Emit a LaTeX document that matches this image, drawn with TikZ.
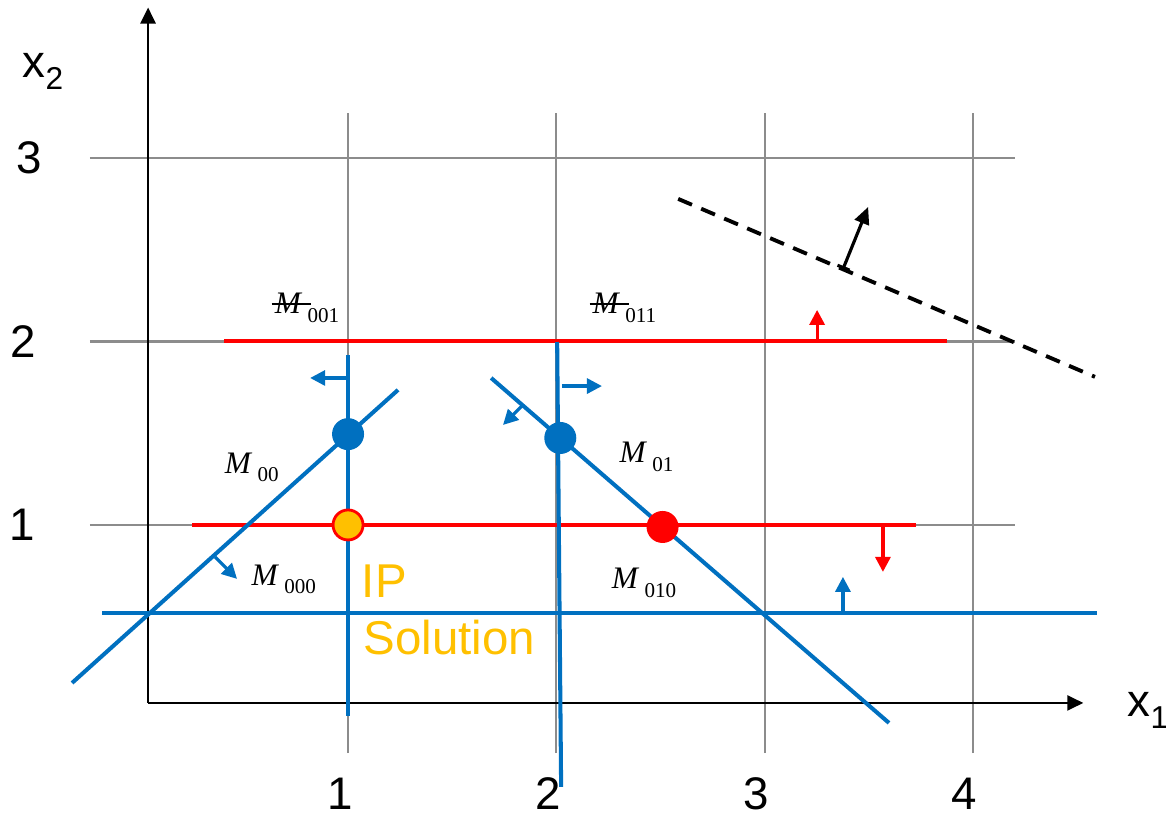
\documentclass[tikz,border=0pt]{standalone}
\usepackage{fontspec}
\setmainfont{Liberation Sans}
\newfontfamily\Mfont{Liberation Serif}
\usetikzlibrary{arrows.meta}
\definecolor{CutBlue}{RGB}{0,112,192}
\definecolor{CutRed}{RGB}{255,0,0}
\definecolor{IPClr}{RGB}{255,192,0}
\definecolor{GridClr}{RGB}{140,140,140}

\newcommand{\Msub}[1]{\,\raisebox{-2.3pt}{\fontsize{6}{6}\selectfont #1}}
\newcommand{\Mlab}[1]{{\Mfont\fontsize{8.9}{10}\selectfont\textit{M}\Msub{#1}}}
\newcommand{\Mcut}[1]{{\Mfont\fontsize{8.9}{10}\selectfont\rlap{\kern-0.1em\rule[0.3em]{1.25em}{0.4pt}}\textit{M}\Msub{#1}}}
\newcommand{\axsub}[1]{\raisebox{-3.2pt}{\fontsize{9}{9}\selectfont #1}}

\begin{document}
\begin{tikzpicture}[x=2.083cm,y=1.835cm,
    gridline/.style={draw=GridClr,line width=0.6pt},
    bluecut/.style={draw=CutBlue,line width=1.15pt},
    redcut/.style={draw=CutRed,line width=1.15pt},
    halfspace/.style={line width=0.9pt,-{Triangle[length=0.15cm,width=0.15cm]}},
    axis/.style={line width=0.7pt,-{Triangle[length=0.16cm,width=0.15cm]}},
    vertex/.style={circle,inner sep=0pt,minimum size=0.32cm},
    ticklbl/.style={font=\fontsize{13}{15}\selectfont},
    Mlbl/.style={anchor=base west,inner sep=0pt}]

\useasboundingbox (-0.671,-0.580) rectangle (4.927,3.861);

% grid
\foreach \y in {1,2,3}
  \draw[gridline] (-0.24,\y) -- (4.2,\y);
\foreach \x in {1,2,3,4}
  \draw[gridline] (\x,-0.243) -- (\x,3.245);

% axes
\coordinate (O) at (0.04,0.03);
\coordinate (X1) at (4.53,0.03);
\coordinate (X2) at (0.04,3.82);
\draw[axis] (O) -- (X1);
\draw[axis] (O) -- (X2);

\foreach \x in {1,...,4}
  \node[ticklbl] (tx\x) at (\x-0.04,-0.466) {\x};
\foreach \y/\xx in {1/-0.565,2/-0.56,3/-0.53}
  \node[ticklbl] (ty\y) at (\xx,\y) {\y};
\node[ticklbl,anchor=base west,inner sep=0pt] (lx2) at (-0.565,3.436) {x\axsub{2}};
\node[ticklbl,anchor=base west,inner sep=0pt] (lx1) at (4.74,-0.046) {x\axsub{1}};

% cuts
\coordinate (a1) at (1,1.926);      \coordinate (a2) at (1,-0.041);
\coordinate (b1) at (2.004,1.997);  \coordinate (b2) at (2.023,-0.427);
\coordinate (c1) at (-0.325,0.139); \coordinate (c2) at (1.24,1.736);
\coordinate (d1) at (1.687,1.801);  \coordinate (d2) at (3.597,-0.079);
\coordinate (e1) at (-0.18,0.52);   \coordinate (e2) at (4.596,0.52);
\coordinate (f1) at (0.405,2);      \coordinate (f2) at (3.876,2);
\coordinate (g1) at (0.251,1);      \coordinate (g2) at (3.727,1);
\coordinate (h1) at (2.585,2.777);  \coordinate (h2) at (4.586,1.807);

\draw[redcut] (f1) -- (f2);
\draw[redcut] (g1) -- (g2);
\draw[bluecut] (e1) -- (e2);
\draw[bluecut] (c1) -- (c2);
\draw[bluecut] (d1) -- (d2);
\draw[bluecut] (a1) -- (a2);
\draw[bluecut] (b1) -- (b2);
\draw[line width=1.1pt,dash pattern=on 0.15cm off 0.1cm] (h1) -- (h2);

% half-space arrows
\draw[halfspace,CutBlue] (1,1.801) -- (0.818,1.801);
\draw[halfspace,CutBlue] (2.027,1.757) -- (2.219,1.757);
\draw[halfspace,CutBlue] (1.835,1.649) -- (1.744,1.545);
\draw[halfspace,CutBlue] (0.361,0.826) -- (0.467,0.706);
\draw[halfspace,CutBlue] (3.376,0.52) -- (3.376,0.717);
\draw[halfspace,CutRed] (3.252,2) -- (3.252,2.172);
\draw[halfspace,CutRed] (3.568,1) -- (3.568,0.744);
\draw[line width=0.9pt,{Bar[width=0.13cm]}-{Triangle[length=0.17cm,width=0.15cm]}]
  (3.376,2.394) -- (3.497,2.733);

% vertices
\node[vertex,fill=CutBlue] (v00) at (1,1.495) {};
\node[vertex,fill=CutBlue] (v01) at (2.019,1.474) {};
\node[vertex,fill=CutRed] (v010) at (2.51,0.989) {};
\node[vertex,fill=IPClr,draw=CutRed,line width=0.8pt,minimum size=0.3cm] (vip) at (1,1) {};

% labels
\node[Mlbl] (m001) at (0.645,2.15) {\Mcut{001}};
\node[Mlbl] (m011) at (2.171,2.15) {\Mcut{011}};
\node[Mlbl] (m00) at (0.405,1.283) {\Mlab{00}};
\node[Mlbl] (m01) at (2.301,1.338) {\Mlab{01}};
\node[Mlbl] (m000) at (0.534,0.668) {\Mlab{000}};
\node[Mlbl] (m010) at (2.263,0.651) {\Mlab{010}};
\node[anchor=base west,inner sep=0pt,text=IPClr,font=\fontsize{13.5}{15}\selectfont] (ip) at (1.063,0.602) {IP};
\node[anchor=base west,inner sep=0pt,text=IPClr,font=\fontsize{13.5}{15}\selectfont] (sol) at (1.072,0.292) {Solution};

\end{tikzpicture}
\end{document}
